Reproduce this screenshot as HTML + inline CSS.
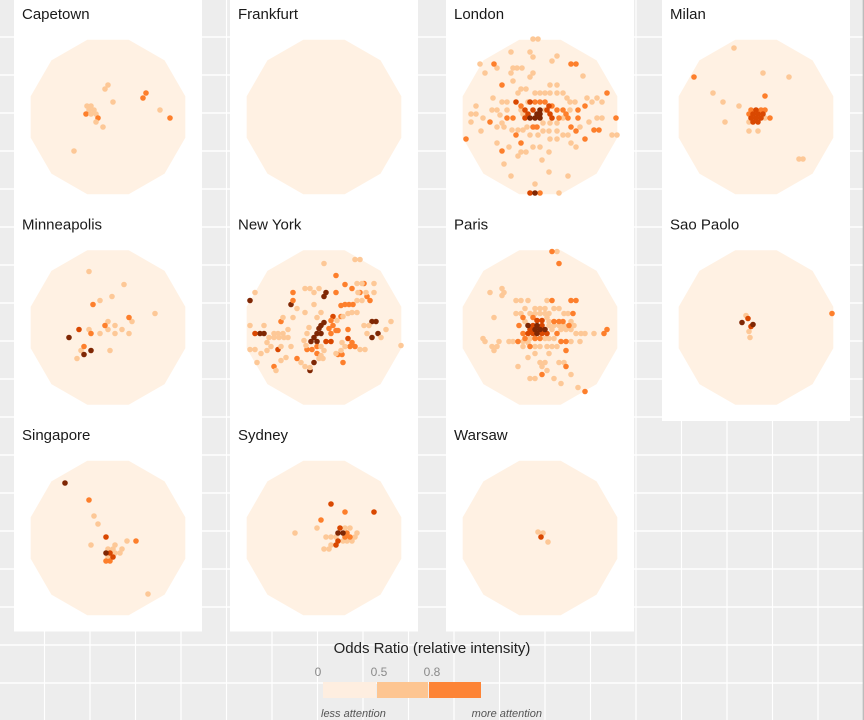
<!DOCTYPE html>
<html><head><meta charset="utf-8"><style>
html,body{margin:0;padding:0;background:#ededed;}
svg{display:block;font-family:"Liberation Sans",sans-serif;}
</style></head><body>
<svg id="chart" width="864" height="720" viewBox="0 0 864 720" xmlns="http://www.w3.org/2000/svg">
<rect x="0" y="0" width="864" height="720" fill="#ededed"/>
<g id="grid"></g>
<g id="panels"></g>
<g id="legend">
  <text x="432" y="653" text-anchor="middle" font-size="15" fill="#222">Odds Ratio (relative intensity)</text>
  <g id="legend-keys"></g>
  <text x="321" y="717" font-size="11" font-style="italic" fill="#555">less attention</text>
  <text x="542" y="717" text-anchor="end" font-size="11" font-style="italic" fill="#555">more attention</text>
</g>
</svg>
<script>
const NS="http://www.w3.org/2000/svg";
const cities=["Capetown","Frankfurt","London","Milan","Minneapolis","New York","Paris","Sao Paolo","Singapore","Sydney","Warsaw"];
const levelColors=["#fff1e3","#fdc897","#fd7f2c","#d94801","#7f2704"];
const legendTicks=["0","0.5","0.8"];
const legendColors=["#feeee0","#fdc591","#fd8436"];
// points per city: [dx, dy, level] offsets (px) from map centre
const capetown=[[0,-32,1],[-3,-28,1],[5,-15,1],[38,-24,2],[35,-19,2],[52,-7,1],[62,1,2],[-21,-11,1],[-17,-11,1],[-19,-7,1],[-14,-7,1],[-22,-3,2],[-17,-3,1],[-12,-3,1],[-10,1,2],[-12,5,1],[-5,10,1],[-34,34,1]];
const frankfurt=[];
const london=[[-7,-78,1],[-2,-78,1],[-29,-65,1],[-10,-65,1],[-7,-60,1],[17,-61,1],[12,-56,1],[-60,-53,1],[-55,-44,1],[-43,-49,1],[-27,-49,1],[-23,-49,1],[-18,-49,1],[-29,-44,1],[-7,-44,1],[43,-41,1],[-27,-36,1],[-10,-40,1],[10,-32,1],[17,-32,1],[-19,-28,1],[-14,-28,1],[-5,-24,1],[0,-24,1],[5,-24,1],[10,-24,1],[17,-24,1],[23,-24,1],[-22,-24,1],[27,-19,1],[30,-15,1],[35,-15,1],[47,-19,1],[52,-15,1],[57,-19,1],[62,-15,1],[-38,-15,1],[-33,-15,1],[-64,-11,1],[-48,-7,1],[-43,-7,1],[-33,-7,1],[-69,-3,1],[-64,-3,1],[-57,1,1],[-69,5,1],[-40,-2,1],[-38,6,1],[-43,10,1],[-36,10,1],[-59,14,1],[-28,13,1],[-22,13,1],[-17,13,1],[-13,10,1],[3,14,1],[9,14,1],[17,14,1],[23,18,1],[28,18,1],[10,22,1],[17,22,1],[31,26,1],[36,30,1],[-43,26,1],[-31,30,1],[-19,35,1],[-14,35,1],[-7,30,1],[-22,39,1],[0,30,1],[9,35,1],[-36,47,1],[2,43,1],[-29,59,1],[9,55,1],[28,59,1],[-5,67,1],[19,76,1],[72,18,1],[77,18,1],[57,1,1],[62,1,1],[40,10,1],[49,5,1],[-47,-19,1],[-12,-15,1],[5,-7,1],[-17,-3,1],[10,6,1],[17,6,1],[3,6,1],[-5,10,1],[-19,-7,1],[23,1,1],[30,-7,1],[-2,18,1],[-10,18,1],[-46,-53,2],[-38,-32,2],[31,-53,2],[36,-53,2],[67,-24,2],[76,1,2],[-74,22,2],[-50,5,2],[-27,1,2],[-33,1,2],[-5,-15,2],[0,-15,2],[5,-15,2],[12,-11,2],[17,-7,2],[23,-7,2],[19,1,2],[26,-3,2],[38,-7,2],[45,-11,2],[38,1,2],[54,13,2],[59,13,2],[45,22,2],[36,14,2],[31,10,2],[-38,34,2],[-19,26,2],[-24,18,2],[-7,10,2],[-3,10,2],[0,76,2],[28,1,2],[-19,-11,2],[-24,-15,3],[-10,-15,3],[-15,-7,3],[-7,-7,3],[7,-7,3],[-12,-3,3],[10,-3,3],[-15,1,3],[12,1,3],[-10,76,3],[9,-11,3],[0,-7,4],[-3,-3,4],[0,-3,4],[-10,1,4],[-5,1,4],[0,1,4],[-5,76,4]];
const milan=[[-22,-69,1],[7,-44,1],[33,-40,1],[-43,-24,1],[-33,-15,1],[-17,-11,1],[-31,5,1],[-7,14,1],[2,14,1],[43,42,1],[47,42,1],[-7,5,1],[9,1,1],[-62,-40,2],[9,-21,2],[-5,-7,2],[9,-7,2],[-7,-3,2],[14,1,2],[5,-7,2],[0,-7,3],[-3,-3,3],[2,-3,3],[7,-3,3],[-5,1,3],[0,1,3],[5,1,3],[-3,5,3],[2,5,3]];
const minneapolis=[[-19,-56,1],[16,-43,1],[4,-31,1],[-8,-27,1],[47,-14,1],[24,-6,1],[0,-6,1],[7,-2,1],[14,2,1],[0,2,1],[-19,2,1],[-8,6,1],[7,6,1],[21,6,1],[2,23,1],[-27,23,1],[-31,31,1],[-15,-23,2],[21,-10,2],[-3,-2,2],[-17,6,2],[-24,19,2],[-29,2,3],[-39,10,4],[-17,23,4],[-24,27,4]];
const newYork=[[-74,-27,4],[-33,-23,4],[2,-35,4],[0,-31,4],[48,-6,4],[52,-6,4],[54,6,4],[48,10,4],[-64,6,4],[-60,6,4],[-10,10,4],[-7,6,4],[-5,1,4],[-3,-2,4],[0,-5,4],[-13,14,4],[-10,35,4],[-14,43,4],[-7,14,4],[-3,6,4],[-69,6,3],[-46,22,3],[7,14,3],[2,14,3],[9,-11,3],[24,11,3],[12,-52,2],[21,-43,2],[-31,-35,2],[-31,-27,2],[-43,-6,2],[12,-35,2],[28,-39,2],[40,-44,2],[36,-35,2],[43,-31,2],[46,-27,2],[17,-22,2],[21,-23,2],[25,-23,2],[29,-23,2],[17,-11,2],[7,-7,2],[9,-2,2],[5,1,2],[7,6,2],[12,3,2],[14,3,2],[24,2,2],[28,15,2],[26,19,2],[31,19,2],[-17,22,2],[-12,22,2],[-7,19,2],[-27,31,2],[14,27,2],[18,27,2],[19,35,2],[-50,39,2],[-7,26,2],[0,-64,1],[31,-68,1],[36,-68,1],[-19,-39,1],[-14,-39,1],[-10,-35,1],[-5,-39,1],[-69,-35,1],[-27,-19,1],[-19,-15,1],[-10,-23,1],[-41,-10,1],[-31,-10,1],[-74,-2,1],[-60,-2,1],[-50,6,1],[-46,6,1],[-41,6,1],[-36,2,1],[-55,10,1],[-50,10,1],[-45,10,1],[-40,10,1],[-36,10,1],[-57,15,1],[-53,19,1],[-43,19,1],[-33,19,1],[-74,22,1],[-69,22,1],[-63,26,1],[-57,23,1],[-67,35,1],[-43,33,1],[-38,30,1],[-48,43,1],[-23,35,1],[-19,39,1],[-14,40,1],[-3,28,1],[-5,31,1],[-1,31,1],[40,-2,1],[45,-2,1],[62,2,1],[67,-6,1],[43,6,1],[57,10,1],[36,22,1],[41,22,1],[77,18,1],[33,-44,1],[38,-44,1],[50,-44,1],[34,-35,1],[42,-35,1],[50,-35,1],[33,-27,1],[38,-27,1],[28,-15,1],[33,-15,1],[24,-14,1],[19,-11,1],[13,-7,1],[-15,0,1],[-17,6,1],[-20,13,1],[-18,18,1],[12,26,1],[17,23,1],[-7,-10,1],[-3,-15,1],[18,15,1],[21,19,1],[0,23,1],[-3,19,1]];
const paris=[[17,-76,1],[-50,-35,1],[-38,-39,1],[-38,-32,1],[-36,-35,1],[-24,-27,1],[-19,-27,1],[-12,-27,1],[7,-27,1],[-24,-14,1],[-19,-14,1],[-15,-19,1],[-5,-19,1],[0,-19,1],[5,-19,1],[-10,-14,1],[-5,-14,1],[0,-14,1],[5,-14,1],[9,-14,1],[14,-19,1],[19,-19,1],[24,-14,1],[28,-14,1],[-46,-10,1],[9,-6,1],[31,-6,1],[9,-2,1],[14,-2,1],[19,-2,1],[24,-2,1],[34,-2,1],[12,2,1],[21,2,1],[26,2,1],[31,2,1],[36,6,1],[41,6,1],[45,6,1],[54,6,1],[-57,11,1],[-55,14,1],[-41,14,1],[-31,14,1],[-27,14,1],[-48,19,1],[-43,19,1],[-46,23,1],[-17,19,1],[-5,19,1],[0,19,1],[7,19,1],[12,19,1],[17,19,1],[40,14,1],[31,14,1],[-12,30,1],[-5,26,1],[9,26,1],[0,35,1],[5,35,1],[19,35,1],[24,35,1],[-22,39,1],[2,39,1],[7,43,1],[31,47,1],[-10,51,1],[-5,51,1],[14,51,1],[21,56,1],[38,60,1],[-10,11,1],[5,11,1],[9,11,1],[14,11,1],[-15,-6,1],[7,-10,1],[-17,14,1],[-12,15,1],[12,-76,2],[19,-64,2],[12,-27,2],[31,-27,2],[36,-27,2],[33,-14,2],[-17,-10,2],[-7,-10,2],[-21,-2,2],[-17,6,2],[-15,11,2],[-5,11,2],[0,11,2],[14,-6,2],[19,-6,2],[23,-6,2],[17,6,2],[21,14,2],[26,14,2],[-22,14,2],[-10,19,2],[26,23,2],[26,39,2],[2,47,2],[45,64,2],[67,2,2],[64,6,2],[29,-2,2],[-7,-2,3],[-10,2,3],[-12,6,3],[-7,6,3],[2,6,3],[7,6,3],[2,-2,3],[-3,-7,3],[2,-7,3],[-12,-2,4],[-3,-2,4],[-5,2,4],[0,2,4],[5,2,4],[-3,6,4]];
const saoPaolo=[[-7,4,1],[-6,10,1],[-10,-12,1],[76,-14,2],[-8,-9,3],[-5,-1,3],[-14,-5,4],[-3,-3,4]];
const singapore=[[-14,-22,1],[-10,-14,1],[-17,7,1],[7,7,1],[19,3,1],[5,11,1],[0,11,1],[14,11,1],[12,15,1],[7,15,1],[0,19,1],[40,56,1],[-19,-38,2],[28,3,2],[-2,23,2],[2,23,2],[-2,-1,3],[2,15,3],[5,19,3],[-43,-55,4],[-2,15,4]];
const sydney=[[-29,-5,1],[-7,-10,1],[21,-10,1],[26,-10,1],[33,-5,1],[2,-1,1],[7,-1,1],[12,-1,1],[31,-1,1],[19,3,1],[23,3,1],[28,3,1],[7,7,1],[0,11,1],[5,11,1],[21,-26,2],[-3,-18,2],[23,-5,2],[21,-1,2],[26,-1,2],[7,-34,3],[50,-26,3],[14,3,3],[12,7,3],[16,-10,3],[14,-5,4],[19,-5,4]];
const warsaw=[[-2,-6,1],[3,-5,1],[8,4,1],[1,-1,3]];
const cityPoints=[capetown,frankfurt,london,milan,minneapolis,newYork,paris,saoPaolo,singapore,sydney,warsaw];

const grid=document.getElementById('grid');
function mk(tag,attrs,parent){const e=document.createElementNS(NS,tag);for(const k in attrs)e.setAttribute(k,attrs[k]);parent.appendChild(e);return e;}
for(let x=-1;x<=864;x+=45.5){
  const l=mk('line',{x1:x,y1:0,x2:x,y2:720,stroke:'#ffffff','stroke-width':1.2},grid);
  
  
}
for(let y=-1;y<=720;y+=38){
  const l=mk('line',{x1:0,y1:y,x2:864,y2:y,stroke:'#ffffff','stroke-width':1.2},grid);
  
  
}
for(let y=37;y<=720;y+=38){
  const l=mk('line',{x1:0,y1:y,x2:864,y2:y,stroke:'#ffffff','stroke-width':1.2},grid);
  
  
}
mk('line',{x1:863.3,y1:0,x2:863.3,y2:720,stroke:'#b5b5b5','stroke-width':1.2},grid);

const panels=document.getElementById('panels');
const colX=[14,230,446,662], panelW=188, rowH=210.5;
const nRows=[3,3,3,2];
colX.forEach((x,c)=>{
  const r=mk('rect',{x:x,y:0,width:panelW,height:nRows[c]*rowH,fill:'#ffffff'},panels);
  
  
});
const R=80, scale=1;
function sx(cx,dx){return cx+dx*scale;}
function sy(cy,dy){return cy+dy*scale;}
cities.forEach((name,i)=>{
  const c=i%4, r=Math.floor(i/4);
  const px=colX[c], py=r*rowH;
  const g=mk('g',{},panels);
  
  
  const t=mk('text',{x:px+8,y:py+19,'font-size':15,fill:'#1a1a1a'},g);
  t.textContent=name;
  
  
  const cx=px+94, cy=py+117;
  let pts=[];
  for(let k=0;k<12;k++){const a=(15+30*k)*Math.PI/180;pts.push((cx+R*Math.cos(a)).toFixed(1)+','+(cy+R*Math.sin(a)).toFixed(1));}
  const disk=mk('polygon',{points:pts.join(' '),fill:levelColors[0]},g);
  
  
  cityPoints[i].forEach(p=>{
    const d=mk('circle',{cx:sx(cx,p[0]),cy:sy(cy,p[1]),r:2.8,fill:levelColors[p[2]]},g);
    
    
  });
});
const lk=document.getElementById('legend-keys');
const keyX=[323,377,429], keyW=[53,51,52], tickX=[318,379,432];
legendColors.forEach((col,i)=>{
  const b=mk('rect',{x:keyX[i],y:682,width:keyW[i],height:16,fill:col},lk);
  
  
  const t=mk('text',{x:tickX[i],y:676,'font-size':12,fill:'#8a8a8a','text-anchor':'middle'},lk);
  t.textContent=legendTicks[i];
  
  
});
</script>
</body></html>
